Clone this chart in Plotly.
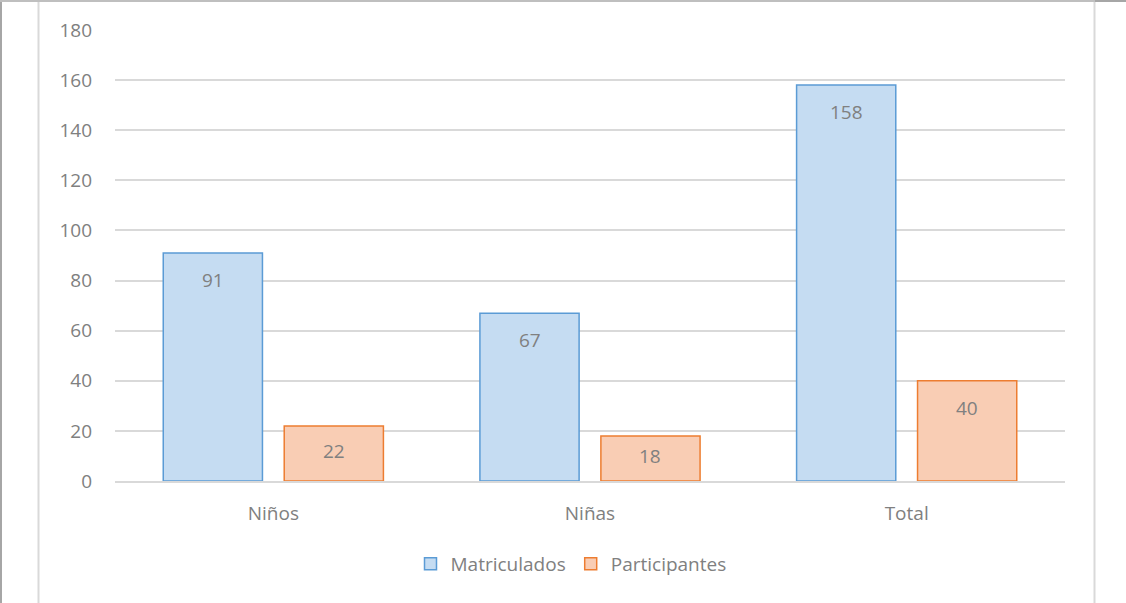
import plotly.graph_objects as go

categories = ["Niños", "Niñas", "Total"]
matriculados = [91, 67, 158]
participantes = [22, 18, 40]
series_names = ["Matriculados", "Participantes"]

W, H = 1126, 603
L, R, T, B = 115, 61, 29, 122
YMAX = 180.4
BARGAP, GROUPGAP = 0.236, 0.18
FONT = "'Open Sans', sans-serif"
FS = 19
TXT = "#808080"


def px_x(p):
    return (p - L) / (W - L - R)


def px_y(p):
    return (H - B - p) / (H - T - B)


fig = go.Figure()
fig.add_trace(go.Bar(
    x=categories, y=matriculados, name=series_names[0],
    marker=dict(color="#C5DCF2", line=dict(color="#5B9BD5", width=1.5)),
))
fig.add_trace(go.Bar(
    x=categories, y=participantes, name=series_names[1],
    marker=dict(color="#F9CDB4", line=dict(color="#ED7D31", width=1.5)),
))

# value labels just inside the top of each bar (pulled up on short bars)
cat_w = (W - L - R) / len(categories)
slot = cat_w * (1 - BARGAP) / 2
px_per_unit = (H - T - B) / YMAX
for vals, side in [(matriculados, -1), (participantes, 1)]:
    for c, v in zip(categories, vals):
        fig.add_annotation(
            x=c, y=v, text=str(v), showarrow=False,
            xshift=side * slot / 2,
            yshift=-min(27, v * px_per_unit / 2 - 2),
            font=dict(family=FONT, size=FS, color=TXT),
        )

# frame of the chart object
shapes = [
    dict(type="rect", xref="paper", yref="paper",
         x0=px_x(0), x1=px_x(2), y0=px_y(H), y1=px_y(0),
         fillcolor="#A6A6A6", line_width=0, layer="below"),
    dict(type="rect", xref="paper", yref="paper",
         x0=px_x(0), x1=px_x(W), y0=px_y(2), y1=px_y(0),
         fillcolor="#BFBFBF", line_width=0, layer="below"),
    dict(type="rect", xref="paper", yref="paper",
         x0=px_x(1095), x1=px_x(W), y0=px_y(2), y1=px_y(0),
         fillcolor="#A6A6A6", line_width=0, layer="below"),
    dict(type="line", xref="paper", yref="paper",
         x0=px_x(38.5), x1=px_x(38.5), y0=px_y(H), y1=px_y(2),
         line=dict(color="#D9D9D9", width=2), layer="below"),
    dict(type="line", xref="paper", yref="paper",
         x0=px_x(1094.5), x1=px_x(1094.5), y0=px_y(H), y1=px_y(2),
         line=dict(color="#D9D9D9", width=2), layer="below"),
]

fig.update_layout(
    width=W, height=H,
    margin=dict(l=L, r=R, t=T, b=B),
    paper_bgcolor="white", plot_bgcolor="white",
    barmode="group", bargap=BARGAP, bargroupgap=GROUPGAP,
    font=dict(family=FONT, size=FS, color=TXT),
    shapes=shapes,
    legend=dict(
        orientation="h", x=px_x(571), xanchor="center",
        y=px_y(564), yanchor="middle",
        font=dict(size=FS, color=TXT), bgcolor="rgba(0,0,0,0)",
    ),
    xaxis=dict(
        showgrid=False, showline=True, linecolor="#D9D9D9", linewidth=1.5,
        ticks="", ticklabelstandoff=14, tickfont=dict(size=FS, color=TXT),
    ),
    yaxis=dict(
        range=[0, YMAX], dtick=20, showgrid=True, gridcolor="#D9D9D9",
        gridwidth=1.5, zeroline=False, showline=False, ticks="",
        ticklabelstandoff=22, tickfont=dict(size=FS, color=TXT),
    ),
)

fig.write_html("out.html", config={"displayModeBar": False},
               post_script="document.body.style.margin='0';")
